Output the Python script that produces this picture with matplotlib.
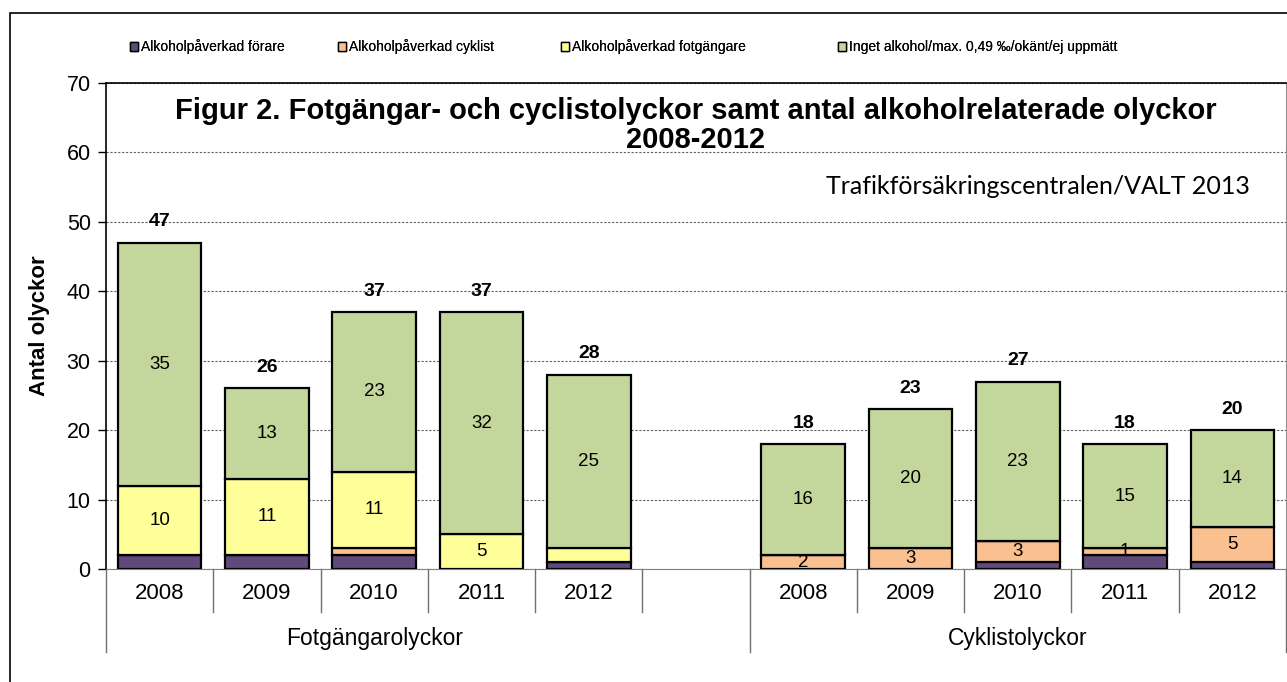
import matplotlib
matplotlib.use("Agg")
import matplotlib.pyplot as plt
from matplotlib.patches import Rectangle, Patch
import numpy as np

plt.rcParams['font.family'] = ['Liberation Sans', 'DejaVu Sans']

years = ["2008", "2009", "2010", "2011", "2012"]
groups = ["Fotgängarolyckor", "Cyklistolyckor"]
series_names = ["Alkoholpåverkad förare", "Alkoholpåverkad cyklist",
                "Alkoholpåverkad fotgängare", "Inget alkohol/max. 0,49 \u2030/okänt/ej uppmätt"]
colors = ["#604A7B", "#FAC090", "#FFFF99", "#C3D69B"]

# pedestrian accidents 2008-2012, then cyclist accidents 2008-2012
forare = [2, 2, 2, 0, 1, 0, 0, 1, 2, 1]
cyklist = [0, 0, 1, 0, 0, 2, 3, 3, 1, 5]
fotgangare = [10, 11, 11, 5, 2, 0, 0, 0, 0, 0]
inget = [35, 13, 23, 32, 25, 16, 20, 23, 15, 14]
totals = [47, 26, 37, 37, 28, 18, 23, 27, 18, 20]

# which segments get a value label inside the bar
show_label = [
    [False] * 10,
    [False] * 5 + [True] * 5,
    [True, True, True, True, False] + [False] * 5,
    [True] * 10,
]

# 11 slots: 5 pedestrian years, one empty slot, 5 cyclist years
x = np.array([0, 1, 2, 3, 4, 6, 7, 8, 9, 10])

fig = plt.figure(figsize=(12.87, 6.82), dpi=100)
ax = fig.add_axes([106 / 1287, 1 - 569 / 682, 1181 / 1287 - 0.0008, 486 / 682])

# outer chart frame
fig.patches.append(Rectangle((10 / 1287, -0.2), 1.2, 1.2 - 13 / 682,
                             transform=fig.transFigure, fill=False,
                             edgecolor="black", linewidth=1.2, zorder=0))

data = [forare, cyklist, fotgangare, inget]
bottom = np.zeros(10)
for vals, col, name, shows in zip(data, colors, series_names, show_label):
    vals = np.array(vals)
    ax.bar(x, vals, width=0.78, bottom=bottom, color=col, edgecolor="black",
           linewidth=1.6, label=name, zorder=3)
    for xi, b, v, s in zip(x, bottom, vals, shows):
        if s and v > 0:
            ax.text(xi, b + v / 2, str(v), ha="center", va="center",
                    fontsize=13.5, zorder=4)
    bottom += vals

for xi, t in zip(x, totals):
    ax.text(xi, t + 3, str(t), ha="center", va="center", fontsize=14,
            fontweight="bold", zorder=4)

ax.set_xlim(-0.5, 10.5)
ax.set_ylim(0, 70)
ax.set_yticks(range(0, 71, 10))
ax.tick_params(axis="y", labelsize=15.5, length=6, width=1, direction="out", pad=5)
ax.yaxis.grid(True, linestyle=(0, (2, 1.5)), color="#606060", linewidth=0.8, zorder=0)
ax.set_ylabel("Antal olyckor", fontsize=16, fontweight="bold", labelpad=12)

ax.set_xticks(x)
ax.set_xticklabels(years * 2, fontsize=16)
ax.tick_params(axis="x", length=0, pad=10)

for side in ["left", "top"]:
    ax.spines[side].set_color("black")
    ax.spines[side].set_linewidth(1.2)
ax.spines["right"].set_color("#909090")
ax.spines["bottom"].set_color("#808080")

# multi-level category separators below the axis
trans = ax.get_xaxis_transform()
for k in range(12):
    xs = k - 0.5
    depth = -0.171 if k in (0, 6, 11) else -0.0885
    ax.plot([xs, xs], [0, depth], transform=trans, color="#707070",
            linewidth=1, clip_on=False)
ax.text(2.0, -0.142, groups[0], transform=trans, ha="center", va="center", fontsize=16.5)
ax.text(8.0, -0.142, groups[1], transform=trans, ha="center", va="center", fontsize=16.5)

ax.text(0.5, 0.972, "Figur 2. Fotgängar- och cyclistolyckor samt antal alkoholrelaterade olyckor\n2008-2012",
        transform=ax.transAxes, ha="center", va="top", fontsize=21,
        fontweight="bold", linespacing=1.08)
ax.text(0.969, 0.788, "Trafikförsäkringscentralen/VALT 2013", transform=ax.transAxes,
        ha="right", va="center", fontsize=18, family=["Lato", "DejaVu Sans"])

# legend entries placed one by one, like the spreadsheet legend
legend_x = [130, 338, 561, 838]
for c, name, lx in zip(colors, series_names, legend_x):
    leg = fig.legend([Patch(facecolor=c, edgecolor="black", linewidth=1)], [name],
                     loc="center left", bbox_to_anchor=(lx / 1287, 1 - 47 / 682),
                     frameon=False, fontsize=10, handlelength=0.6, handleheight=0.6,
                     handletextpad=0.2, borderpad=0, borderaxespad=0)
    fig.add_artist(leg)

fig.savefig("out.png", dpi=100)
